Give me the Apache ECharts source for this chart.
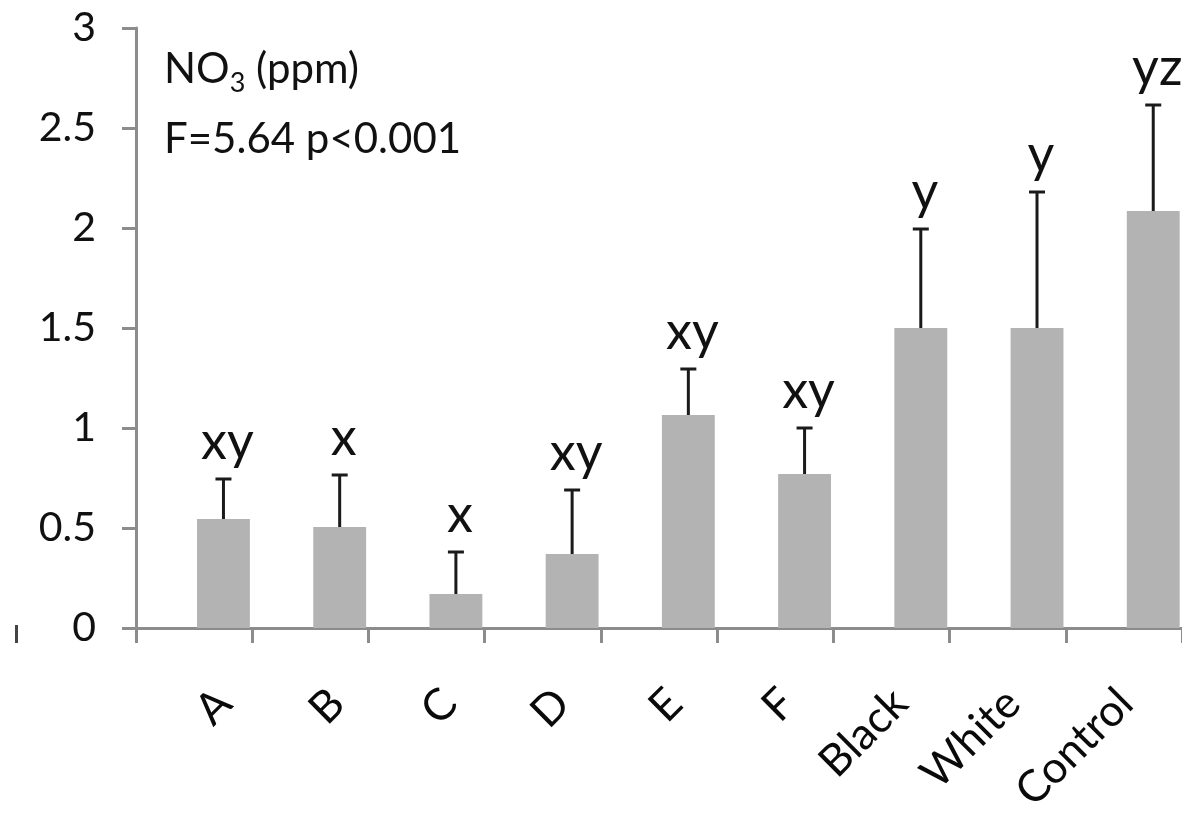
<!DOCTYPE html>
<html>
<head>
<meta charset="utf-8">
<script src="https://cdn.jsdelivr.net/npm/echarts@6/dist/echarts.min.js"></script>
<style>html,body{margin:0;padding:0;background:#fff}#c{width:1182px;height:816px}</style>
</head>
<body>
<div id="c"></div>
<script>
var categories = ['A', 'B', 'C', 'D', 'E', 'F', 'Black', 'White', 'Control'];
var means = [0.545, 0.505, 0.17, 0.37, 1.065, 0.77, 1.50, 1.50, 2.085];
var errors = [0.20, 0.26, 0.21, 0.32, 0.23, 0.23, 0.495, 0.68, 0.53];
var letters = ['xy', 'x', 'x', 'xy', 'xy', 'xy', 'y', 'y', 'yz'];
var yMin = 0, yMax = 3, yStep = 0.5;

var FONT = 'Lato';
var chart = echarts.init(document.getElementById('c'), null, {renderer: 'canvas'});

var barData = means.map(function (v, i) { return [i, v]; });
var errData = means.map(function (v, i) { return [i, v, errors[i], i]; });

function barLeft(api, i) {
  var base = api.coord([i, 0]);
  var w = api.size([1, 0])[0];
  return {x: base[0] + 0.025 * w, w: 0.455 * w, base: base[1]};
}

var option = {
  animation: false,
  backgroundColor: '#ffffff',
  grid: [
    {left: 136, right: 0, top: 28, bottom: 188, containLabel: false},
    {left: 168, right: -32, top: 28, bottom: 188, containLabel: false}
  ],
  xAxis: [
    {
      type: 'category', gridIndex: 0, data: categories, boundaryGap: true,
      axisLine: {show: true, lineStyle: {color: '#8c8c8c', width: 3}},
      axisTick: {show: true, alignWithLabel: false, length: 15, lineStyle: {color: '#8c8c8c', width: 3}},
      axisLabel: {show: false},
      splitLine: {show: false}
    },
    {
      type: 'category', gridIndex: 1, data: categories, boundaryGap: true,
      axisLine: {show: false}, axisTick: {show: false}, splitLine: {show: false},
      axisLabel: {show: true, rotate: 45, margin: 79, fontSize: 44, fontFamily: FONT, color: '#0a0a0a', interval: 0}
    }
  ],
  yAxis: [
    {
      type: 'value', gridIndex: 0, min: yMin, max: yMax, interval: yStep,
      axisLine: {show: true, lineStyle: {color: '#8c8c8c', width: 3}},
      axisTick: {show: true, length: 14, lineStyle: {color: '#8c8c8c', width: 3}},
      axisLabel: {margin: 40, fontSize: 41, fontFamily: FONT, color: '#111111'},
      splitLine: {show: false}
    },
    {type: 'value', gridIndex: 1, min: yMin, max: yMax, show: false}
  ],
  graphic: [
    {
      type: 'text', left: 164, top: 48,
      style: {
        text: '{a|NO}{s|3}{a| (ppm)}',
        rich: {
          a: {fontSize: 42, fontFamily: FONT, fill: '#111111', lineHeight: 52, verticalAlign: 'bottom', padding: [0, 0, 7, 0]},
          s: {fontSize: 27, fontFamily: FONT, fill: '#111111', lineHeight: 52, verticalAlign: 'bottom'}
        }
      }
    },
    {
      type: 'text', left: 164, top: 118,
      style: {text: 'F=5.64 p<0.001', fontSize: 42, fontFamily: FONT, fill: '#111111'}
    },
    {
      type: 'rect', left: 15, top: 625, shape: {width: 3, height: 18}, style: {fill: '#444444'}
    }
  ],
  series: [
    {
      type: 'custom', name: 'NO3', xAxisIndex: 0, yAxisIndex: 0,
      data: barData, encode: {x: 0, y: 1}, clip: false,
      renderItem: function (params, api) {
        var i = api.value(0), v = api.value(1);
        var b = barLeft(api, i);
        var top = api.coord([i, v])[1];
        return {type: 'rect', shape: {x: b.x, y: top, width: b.w, height: b.base - top}, style: {fill: '#b3b3b3'}};
      }
    },
    {
      type: 'custom', name: 'SE', xAxisIndex: 0, yAxisIndex: 0,
      data: errData, encode: {x: 0, y: 1}, clip: false, z: 5,
      renderItem: function (params, api) {
        var i = api.value(0), v = api.value(1), e = api.value(2);
        var b = barLeft(api, i);
        var cx = b.x + b.w / 2;
        var y0 = api.coord([i, v])[1];
        var y1 = api.coord([i, v + e])[1];
        var ls = {stroke: '#1a1a1a', lineWidth: 3};
        return {
          type: 'group',
          children: [
            {type: 'line', shape: {x1: cx, y1: y0, x2: cx, y2: y1}, style: ls},
            {type: 'line', shape: {x1: cx - 8, y1: y1, x2: cx + 8, y2: y1}, style: ls},
            {type: 'text', style: {text: letters[api.value(3)], x: cx + 4, y: y1 - 11, align: 'center', verticalAlign: 'bottom', fontSize: 52, fontFamily: FONT, fill: '#111111'}}
          ]
        };
      }
    }
  ]
};
chart.setOption(option);
</script>
</body>
</html>
